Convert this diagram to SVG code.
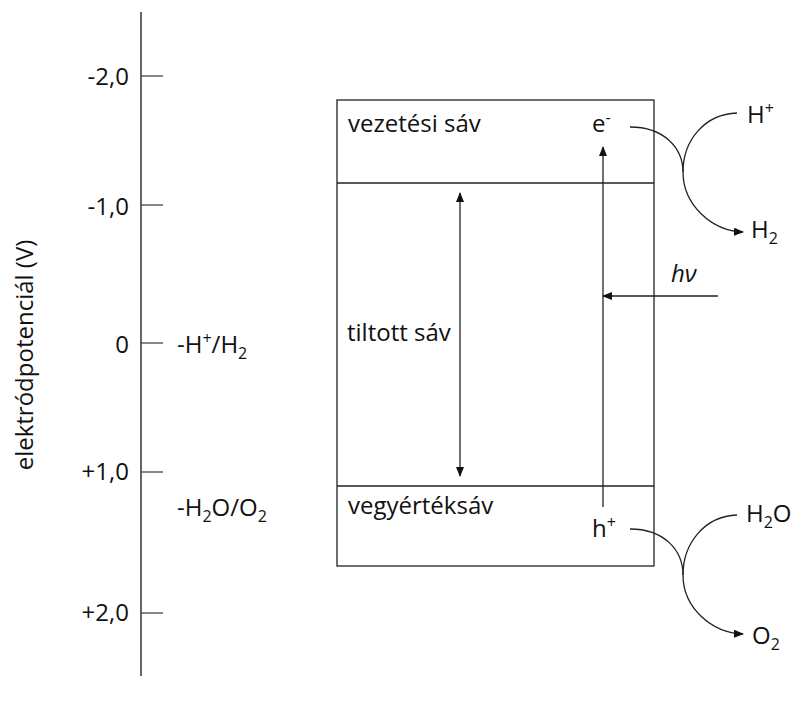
<svg xmlns="http://www.w3.org/2000/svg" width="792" height="706" viewBox="0 0 792 706">
<style>
text{font-family:"Open Sans","Liberation Sans",sans-serif;font-size:24px;fill:#111}
.sub{font-size:16px}
.ln{stroke:#222;stroke-width:1.3;fill:none}
.ax{stroke:#666;stroke-width:2;fill:none}
.tk{stroke:#444;stroke-width:1.3}
</style>
<defs>
<marker id="ah" markerWidth="10" markerHeight="8" refX="9" refY="4" orient="auto" markerUnits="userSpaceOnUse">
<path d="M0,0 L10,4 L0,8 Z" fill="#111"/>
</marker>
<marker id="ahs" markerWidth="10" markerHeight="8" refX="1" refY="4" orient="auto" markerUnits="userSpaceOnUse">
<path d="M10,0 L0,4 L10,8 Z" fill="#111"/>
</marker>
</defs>
<rect width="792" height="706" fill="#fff"/>
<g id="axis">
<line class="ax" x1="141" y1="12" x2="141" y2="676"/>
<line class="tk" x1="141" y1="76" x2="163" y2="76"/>
<line class="tk" x1="141" y1="205" x2="163" y2="205"/>
<line class="tk" x1="141" y1="343" x2="163" y2="343"/>
<line class="tk" x1="141" y1="472" x2="163" y2="472"/>
<line class="tk" x1="141" y1="613" x2="163" y2="613"/>
<g text-anchor="end">
<text x="129" y="85">-2,0</text>
<text x="129" y="215">-1,0</text>
<text x="129" y="353">0</text>
<text x="129" y="480">+1,0</text>
<text x="129" y="621">+2,0</text>
</g>
<text transform="translate(33,355) rotate(-90)" text-anchor="middle">elektródpotenciál (V)</text>
<text x="177" y="353">-H<tspan class="sub" dy="-9">+</tspan><tspan dy="9">/H</tspan><tspan class="sub" dy="6">2</tspan></text>
<text x="177" y="516">-H<tspan class="sub" dy="6">2</tspan><tspan dy="-6">O/O</tspan><tspan class="sub" dy="6">2</tspan></text>
</g>
<g id="semiconductor">
<rect class="ln" x="337" y="100" width="317" height="466"/>
<line class="ln" x1="337" y1="183" x2="654" y2="183"/>
<line class="ln" x1="337" y1="486" x2="654" y2="486"/>
</g>
<g id="conduction-band">
<text x="348" y="132">vezetési sáv</text>
<text x="592" y="132">e<tspan class="sub" dy="-9">-</tspan></text>
</g>
<g id="band-gap">
<text x="347" y="341">tiltott sáv</text>
</g>
<g id="valence-band">
<text x="348" y="514">vegyértéksáv</text>
<text x="592" y="537">h<tspan class="sub" dy="-9">+</tspan></text>
</g>
<g id="labels">
<text x="671" y="282" font-style="italic">hν</text>
<text x="747" y="123">H<tspan class="sub" dy="-9">+</tspan></text>
<text x="751" y="238">H<tspan class="sub" dy="6">2</tspan></text>
<text x="746" y="522">H<tspan class="sub" dy="6">2</tspan><tspan dy="-6">O</tspan></text>
<text x="752" y="644">O<tspan class="sub" dy="6">2</tspan></text>
</g>
<g id="connectors">
<line class="ln" x1="460" y1="193" x2="460" y2="476" marker-start="url(#ahs)" marker-end="url(#ah)"/>
<line class="ln" x1="603" y1="507" x2="603" y2="147" marker-end="url(#ah)"/>
<line class="ln" x1="718" y1="296" x2="603" y2="296" marker-end="url(#ah)"/>
<path class="ln" d="M630,127 C664,127 683,148 683,172 C683,205 712,231 743,232" marker-end="url(#ah)"/>
<path class="ln" d="M737,113 C705,114 683,140 683,172"/>
<path class="ln" d="M630,529 C664,529 683,550 683,575 C683,608 712,633 743,634" marker-end="url(#ah)"/>
<path class="ln" d="M737,515 C705,516 683,543 683,575"/>
</g>
</svg>
